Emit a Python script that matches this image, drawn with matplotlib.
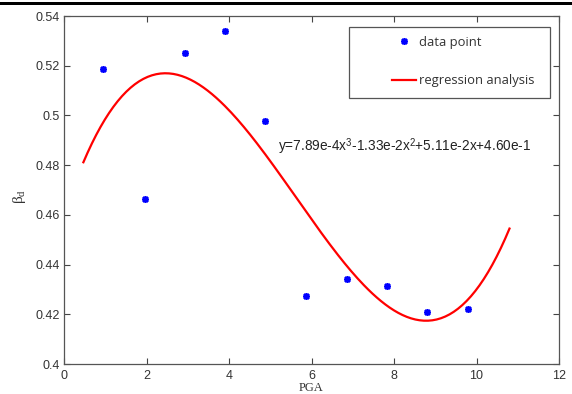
import matplotlib
matplotlib.use("Agg")
import matplotlib.pyplot as plt
import numpy as np

# measured data points (PGA vs beta_d)
pga = [0.95, 1.96, 2.93, 3.90, 4.88, 5.87, 6.86, 7.82, 8.80, 9.79]
beta_d = [0.5187, 0.4665, 0.5250, 0.5340, 0.4977, 0.4274, 0.4342, 0.4315, 0.4208, 0.4221]

# regression polynomial as printed on the chart (highest power first)
coef = [7.89e-4, -1.33e-2, 5.11e-2, 4.60e-1]
fit_range = [0.47, 10.8]

xticks = [0, 2, 4, 6, 8, 10, 12]
yticks = [0.4, 0.42, 0.44, 0.46, 0.48, 0.5, 0.52, 0.54]
ytick_labels = ["0.4", "0.42", "0.44", "0.46", "0.48", "0.5", "0.52", "0.54"]

plt.rcParams['mathtext.fontset'] = 'custom'
plt.rcParams['mathtext.rm'] = 'Liberation Serif'
plt.rcParams['mathtext.it'] = 'Liberation Serif'
plt.rcParams['mathtext.sf'] = 'Liberation Sans'

fig = plt.figure(figsize=(5.72, 3.94), dpi=100)
ax = fig.add_axes([64/572, 1-364/394, (559-64)/572, (364-16)/394])

# thick black rule at top of the image
fig.add_artist(plt.Rectangle((0, 1-5/394), 1, 3.5/394, transform=fig.transFigure,
                             color="black", lw=0))

xf = np.linspace(fit_range[0], fit_range[1], 200)
ax.plot(pga, beta_d, linestyle="none", marker=(8, 2, 0), markersize=5,
        markeredgewidth=1.2, color="blue", label="data point")
ax.plot(xf, np.polyval(coef, xf), color="red", lw=1.6, label="regression analysis")

ax.set_xlim(0, 12)
ax.set_ylim(0.4, 0.54)
ax.set_xticks(xticks)
ax.set_yticks(yticks)
ax.set_yticklabels(ytick_labels)
ax.tick_params(direction="in", top=True, right=True, length=4, width=0.8,
               colors="#444444", labelsize=9, labelcolor="#333333")
ax.tick_params(axis="x", pad=4)
ax.tick_params(axis="y", pad=3)
for lab in ax.get_xticklabels() + ax.get_yticklabels():
    lab.set_family("Liberation Sans")
for s in ax.spines.values():
    s.set_color("#555555")
    s.set_linewidth(0.9)

ax.set_xlabel("PGA", family="Liberation Serif", fontsize=9, color="#333333", labelpad=0)
ax.set_ylabel(r"$\beta_d$", fontsize=11, color="#333333")
ax.yaxis.set_label_coords(-0.072, 0.48)

ax.text(5.18, 0.4855, r"y=7.89e-4x$^\mathsf{3}$-1.33e-2x$^\mathsf{2}$+5.11e-2x+4.60e-1",
        family="Liberation Sans", fontsize=9.8, color="#222222")

# legend box drawn separately so the left padding matches
ax.add_patch(plt.Rectangle(((349-64)/495, (364-98)/348), (550-349)/495, (98-27)/348,
                           transform=ax.transAxes, facecolor="white",
                           edgecolor="#555555", lw=0.9, zorder=4))
leg = ax.legend(loc="upper left", bbox_to_anchor=((392-64)/495, (364-36)/348),
                fontsize=9.4, frameon=False, borderpad=0, labelspacing=1.95,
                handlelength=1.8, handletextpad=0.25, borderaxespad=0)
leg.set_zorder(5)
for t in leg.get_texts():
    t.set_family("Open Sans")
    t.set_color("#333333")

fig.savefig("out.png", dpi=100)
